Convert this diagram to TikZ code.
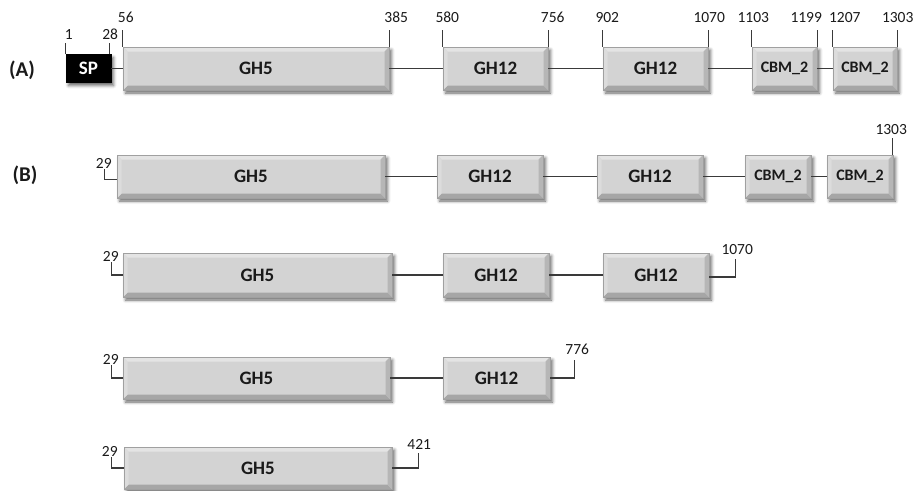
\documentclass[tikz,border=0pt]{standalone}
\usepackage{fontspec}
\setmainfont{Carlito}
\usetikzlibrary{shadows.blur,calc}
\definecolor{domfill}{HTML}{D3D3D3}
\definecolor{domlight}{HTML}{E4E4E4}
\definecolor{domlight2}{HTML}{DCDCDC}
\definecolor{domdark}{HTML}{A6A6A6}
\definecolor{domdark2}{HTML}{B6B6B6}
\definecolor{domedge}{HTML}{A0A0A0}
\definecolor{linec}{HTML}{3A3A3A}
\definecolor{txt}{HTML}{1A1A1A}
\tikzset{
  bev/.style={
    path picture={
      \fill[domlight] (path picture bounding box.north west) -- (path picture bounding box.north east)
        -- ([xshift=-4.5pt,yshift=-4.5pt]path picture bounding box.north east)
        -- ([xshift=4.5pt,yshift=-4.5pt]path picture bounding box.north west) -- cycle;
      \fill[domdark] (path picture bounding box.south west) -- (path picture bounding box.south east)
        -- ([xshift=-4.5pt,yshift=4.5pt]path picture bounding box.south east)
        -- ([xshift=4.5pt,yshift=4.5pt]path picture bounding box.south west) -- cycle;
      \fill[domdark2] (path picture bounding box.north east) -- (path picture bounding box.south east)
        -- ([xshift=-4.5pt,yshift=4.5pt]path picture bounding box.south east)
        -- ([xshift=-4.5pt,yshift=-4.5pt]path picture bounding box.north east) -- cycle;
      \fill[domlight2] (path picture bounding box.north west) -- (path picture bounding box.south west)
        -- ([xshift=4.5pt,yshift=4.5pt]path picture bounding box.south west)
        -- ([xshift=4.5pt,yshift=-4.5pt]path picture bounding box.north west) -- cycle;
    }},
  dom/.style={draw=domedge, line width=0.4pt, fill=domfill, inner sep=0pt,
    text=txt, font=\bfseries\fontsize{19}{19}\selectfont,
    blur shadow={shadow xshift=2.5pt, shadow yshift=-3pt, shadow blur radius=3pt, shadow opacity=60},
    bev},
  cbm/.style={dom, font=\bfseries\fontsize{16}{16}\selectfont},
  spbox/.style={fill=black, draw=black, inner sep=0pt, text=white,
    font=\bfseries\fontsize{19}{19}\selectfont,
    blur shadow={shadow xshift=2.5pt, shadow yshift=-3pt, shadow blur radius=3pt, shadow opacity=60}},
  conn/.style={draw=linec, line width=1.4pt},
  tick/.style={draw=linec, line width=1.3pt},
  lbl/.style={text=txt, font=\fontsize{15.5}{15.5}\selectfont, inner sep=0pt, anchor=base},
  panel/.style={text=txt, font=\bfseries\fontsize{21}{21}\selectfont, inner sep=0pt},
}
\begin{document}
\begin{tikzpicture}[x=1pt,y=-1pt]
\useasboundingbox (0,0) rectangle (917,490);

% ---------- (A) ----------
\node[panel] (labA) at (22,70) {(A)};
\node[spbox, minimum width=45pt, minimum height=28pt] (sp) at (88.5,68.5) {SP};
\node[dom, minimum width=266pt, minimum height=43pt] (a5) at (256,68.5) {GH5};
\node[dom, minimum width=105pt, minimum height=43pt] (a12a) at (495.5,68.5) {GH12};
\node[dom, minimum width=105pt, minimum height=43pt] (a12b) at (655.5,68.5) {GH12};
\node[cbm, minimum width=65pt, minimum height=43pt] (acba) at (784.5,68.5) {CBM\_2};
\node[cbm, minimum width=64pt, minimum height=43pt] (acbb) at (865,68.5) {CBM\_2};
\draw[conn] (sp) -- (a5);
\draw[conn] (a5) -- (a12a);
\draw[conn] (a12a) -- (a12b);
\draw[conn] (a12b) -- (acba);
\draw[conn] (acba) -- (acbb);

\draw[tick] (sp.north west) -- ++(0,-11) node[lbl, xshift=3pt, yshift=4pt] (t1) {1};
\draw[tick] ([xshift=-2pt]sp.north east) -- ++(0,-11) node[lbl, xshift=1pt, yshift=4pt] (t28) {28};
\draw[tick] (a5.north west) -- ++(0,-17) node[lbl, xshift=3pt, yshift=7pt] (t56) {56};
\draw[tick] (a5.north east) -- ++(0,-17) node[lbl, xshift=7pt, yshift=7pt] (t385) {385};
\draw[tick] (a12a.north west) -- ++(0,-17) node[lbl, xshift=4.5pt, yshift=7pt] (t580) {580};
\draw[tick] (a12a.north east) -- ++(0,-17) node[lbl, xshift=4.5pt, yshift=7pt] (t756) {756};
\draw[tick] (a12b.north west) -- ++(0,-17) node[lbl, xshift=4.5pt, yshift=7pt] (t902) {902};
\draw[tick] (a12b.north east) -- ++(0,-17) node[lbl, xshift=1pt, yshift=7pt] (t1070) {1070};
\draw[tick] (acba.north west) -- ++(0,-17) node[lbl, xshift=1.5pt, yshift=7pt] (t1103) {1103};
\draw[tick] (acba.north east) -- ++(0,-17) node[lbl, xshift=-11pt, yshift=7pt] (t1199) {1199};
\draw[tick] (acbb.north west) -- ++(0,-17) node[lbl, xshift=12pt, yshift=7pt] (t1207) {1207};
\draw[tick] (acbb.north east) -- ++(0,-17) node[lbl, xshift=0.5pt, yshift=7pt] (t1303) {1303};

% ---------- (B) row 1 ----------
\node[panel] (labB) at (25,175) {(B)};
\node[dom, minimum width=268pt, minimum height=43pt] (b5) at (251,176.5) {GH5};
\node[dom, minimum width=106pt, minimum height=43pt] (b12a) at (490,176.5) {GH12};
\node[dom, minimum width=106pt, minimum height=43pt] (b12b) at (650,176.5) {GH12};
\node[cbm, minimum width=66pt, minimum height=43pt] (bcba) at (778,176.5) {CBM\_2};
\node[cbm, minimum width=66pt, minimum height=43pt] (bcbb) at (860,176.5) {CBM\_2};
\draw[conn] (b5) -- (b12a);
\draw[conn] (b12a) -- (b12b);
\draw[conn] (b12b) -- (bcba);
\draw[conn] (bcba) -- (bcbb);
\draw[tick] ([yshift=-3pt]b5.west) -- ++(-12,0) -- ++(0,-11) node[lbl, xshift=-1pt, yshift=0.5pt] (b29) {29};
\draw[tick] ([xshift=-1pt]bcbb.north east) -- ++(0,-17) node[lbl, xshift=-1pt, yshift=3pt] (b1303) {1303};

% ---------- (B) row 2 ----------
\node[dom, minimum width=269pt, minimum height=44pt] (c5) at (257.5,275) {GH5};
\node[dom, minimum width=106pt, minimum height=44pt] (c12a) at (496,275) {GH12};
\node[dom, minimum width=106pt, minimum height=44pt] (c12b) at (656,275) {GH12};
\draw[conn] (c5) -- (c12a);
\draw[conn] (c12a) -- (c12b);
\draw[tick] (c5.west) -- ++(-11,0) -- ++(0,-13) node[lbl, xshift=-1pt, yshift=0.5pt] (c29) {29};
\draw[tick] ([yshift=-2pt]c12b.east) -- ++(26,0) -- ++(0,-18) node[lbl, xshift=2pt, yshift=5pt] (c1070) {1070};

% ---------- (B) row 3 ----------
\node[dom, minimum width=267pt, minimum height=42pt] (d5) at (256.5,378) {GH5};
\node[dom, minimum width=107pt, minimum height=42pt] (d12a) at (496.5,378) {GH12};
\draw[conn] (d5) -- (d12a);
\draw[tick] (d5.west) -- ++(-11,0) -- ++(0,-13) node[lbl, xshift=-1pt, yshift=0.5pt] (d29) {29};
\draw[tick] (d12a.east) -- ++(24,0) -- ++(0,-18) node[lbl, xshift=3pt, yshift=6pt] (d776) {776};

% ---------- (B) row 4 ----------
\node[dom, minimum width=268pt, minimum height=42pt] (e5) at (258,468) {GH5};
\draw[tick] (e5.west) -- ++(-12,0) -- ++(0,-11) node[lbl, xshift=-2pt, yshift=0.5pt] (e29) {29};
\draw[tick] (e5.east) -- ++(26,0) -- ++(0,-15) node[lbl, xshift=1pt, yshift=4pt] (e421) {421};
\end{tikzpicture}
\end{document}
